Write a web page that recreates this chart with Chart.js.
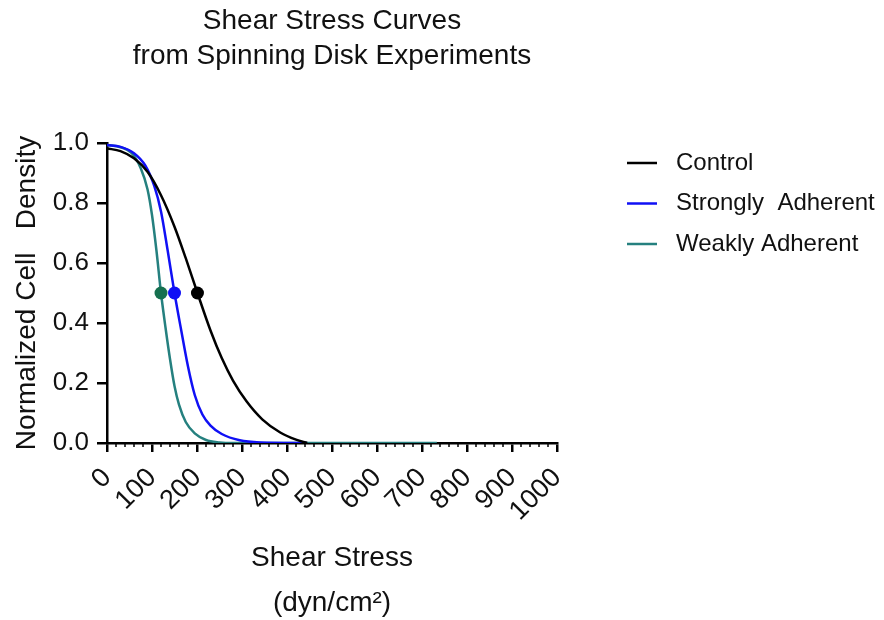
<!DOCTYPE html>
<html>
<head>
<meta charset="utf-8">
<script src="https://cdn.jsdelivr.net/npm/chart.js@4"></script>
<style>
  html, body { margin: 0; padding: 0; background: #fff; }
  #wrap { width: 884px; height: 620px; }
</style>
</head>
<body>
<div id="wrap"><canvas id="chart" width="884" height="620"></canvas></div>
<script>
'use strict';

// values
const controlX = [0, 30, 60, 90, 120, 150, 175, 201, 230, 255, 280, 310, 345, 385, 420, 445];
const controlY = [0.982, 0.973, 0.949, 0.904, 0.826, 0.721, 0.616, 0.5, 0.375, 0.283, 0.208, 0.139, 0.079, 0.035, 0.011, 0.0];

const strongX = [0, 30, 60, 85, 105, 120, 135, 150, 165, 180, 195, 212, 230, 255, 295, 340, 444];
const strongY = [0.993, 0.987, 0.966, 0.925, 0.857, 0.772, 0.64, 0.5, 0.375, 0.255, 0.16, 0.095, 0.058, 0.03, 0.009, 0.002, 0.0];

const weakX = [0, 30, 55, 75, 90, 100, 110, 120, 130, 140, 150, 160, 175, 195, 220, 250, 280, 733];
const weakY = [0.993, 0.986, 0.966, 0.916, 0.846, 0.76, 0.64, 0.5, 0.385, 0.28, 0.19, 0.128, 0.07, 0.032, 0.01, 0.002, 0.0, 0.0];

// half-maximum points (x at y = 0.5)
const halfX = [201, 150, 120];
const halfY = 0.5;

const seriesNames = ['Control', 'Strongly  Adherent', 'Weakly Adherent'];
const lineColors = ['#000000', '#1010f5', '#25807f'];
const dotColors = ['#000000', '#1010f5', '#16704f'];

const xTicks = [0, 100, 200, 300, 400, 500, 600, 700, 800, 900, 1000];
const yTicks = [0.0, 0.2, 0.4, 0.6, 0.8, 1.0];

const titleLines = ['Shear Stress Curves', 'from Spinning Disk Experiments'];

const FONT = '"Liberation Sans", Arial, sans-serif';

function pts(xs, ys) {
  return xs.map((x, i) => ({x: x, y: ys[i]}));
}

let lineSets = [pts(controlX, controlY), pts(strongX, strongY), pts(weakX, weakY)];

let datasets = lineSets.map((d, i) => ({
  label: seriesNames[i],
  data: d,
  showLine: true,
  borderColor: lineColors[i],
  borderWidth: 2.5,
  pointRadius: 0,
  cubicInterpolationMode: 'monotone',
  order: 10 + i,
}));

halfX.forEach((x, i) => {
  datasets.push({
    label: seriesNames[i] + ' half',
    data: [{x: x, y: halfY}],
    showLine: false,
    pointRadius: 6.5,
    pointBackgroundColor: dotColors[i],
    pointBorderColor: dotColors[i],
    borderWidth: 0,
    order: i,
  });
});

// title, legend and minor ticks
const extras = {
  id: 'extras',
  afterDraw(chart) {
    const ctx = chart.ctx;
    const area = chart.chartArea;
    const xs = chart.scales.x;
    ctx.save();

    // minor ticks on x axis
    ctx.strokeStyle = '#000';
    ctx.lineWidth = 1.5;
    for (let v = 0; v <= 1000; v += 20) {
      if (v % 100 === 0) continue;
      const px = xs.getPixelForValue(v);
      ctx.beginPath();
      ctx.moveTo(px, area.bottom);
      ctx.lineTo(px, area.bottom + 4);
      ctx.stroke();
    }

    // title
    ctx.fillStyle = '#111';
    ctx.font = '28px ' + FONT;
    ctx.textAlign = 'center';
    ctx.textBaseline = 'middle';
    const cx = (area.left + area.right) / 2;
    ctx.fillText(titleLines[0], cx, 21);
    ctx.fillText(titleLines[1], cx, 56);

    // legend
    ctx.textAlign = 'left';
    ctx.font = '24px ' + FONT;
    seriesNames.forEach((name, i) => {
      const y = 163 + i * 40.5;
      ctx.strokeStyle = lineColors[i];
      ctx.lineWidth = 2.5;
      ctx.beginPath();
      ctx.moveTo(627, y);
      ctx.lineTo(657, y);
      ctx.stroke();
      ctx.fillStyle = '#111';
      ctx.fillText(name, 676, y);
    });
    ctx.restore();
  }
};

let canvasElem = document.getElementById('chart');

new Chart(canvasElem, {
  type: 'scatter',
  data: {datasets: datasets},
  options: {
    responsive: false,
    animation: false,
    layout: {padding: {left: 0, top: 143, right: 327, bottom: 0}},
    plugins: {
      legend: {display: false},
      tooltip: {enabled: false},
    },
    scales: {
      x: {
        type: 'linear',
        min: 0,
        max: 1000,
        afterFit(axis) { axis.height = 177; },
        afterBuildTicks(axis) { axis.ticks = xTicks.map(v => ({value: v})); },
        border: {display: true, color: '#000', width: 2.5},
        grid: {drawOnChartArea: false, drawTicks: true, tickLength: 9, color: '#000', lineWidth: 2.5},
        ticks: {
          autoSkip: false,
          minRotation: 45,
          maxRotation: 45,
          padding: 10,
          color: '#111',
          font: {family: FONT, size: 27},
          callback: v => String(v),
        },
        title: {
          display: true,
          text: ['Shear Stress', '(dyn/cm\u00B2)'],
          color: '#111',
          font: {family: FONT, size: 28, lineHeight: '45px'},
          padding: {top: 0, bottom: -6},
        },
      },
      y: {
        type: 'linear',
        min: 0,
        max: 1,
        afterFit(axis) { axis.width = 107; },
        afterBuildTicks(axis) { axis.ticks = yTicks.map(v => ({value: v})); },
        border: {display: true, color: '#000', width: 2.5},
        grid: {drawOnChartArea: false, drawTicks: true, tickLength: 10, color: '#000', lineWidth: 2.5},
        ticks: {
          padding: 8,
          color: '#111',
          font: {family: FONT, size: 26},
          callback: v => v.toFixed(1),
        },
        title: {
          display: true,
          text: 'Normalized Cell   Density',
          color: '#111',
          font: {family: FONT, size: 28},
          padding: {top: 10, bottom: 0},
        },
      },
    },
  },
  plugins: [extras],
});
</script>
</body>
</html>
